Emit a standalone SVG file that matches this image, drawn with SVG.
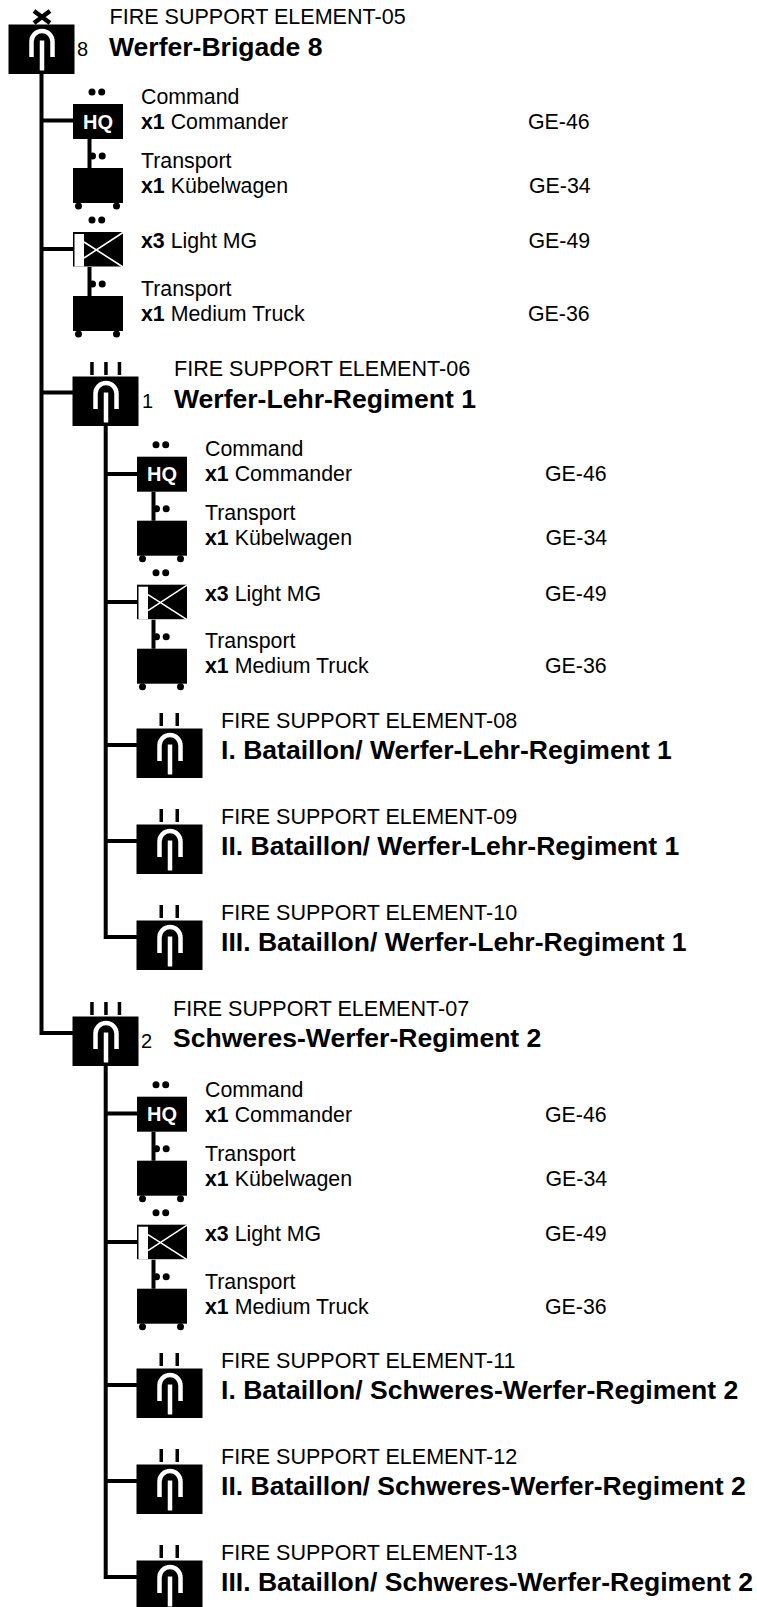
<svg xmlns="http://www.w3.org/2000/svg" width="757" height="1607" viewBox="0 0 757 1607">
<style>
text{font-family:"Liberation Sans",Arial,sans-serif;fill:#000}
.f{font-size:21.550px}.t{font-size:26.560px;font-weight:700}.l{font-size:21.330px}.n{font-size:20px}.b{font-weight:700}
.hq{font-size:20px;font-weight:700;fill:#fff}
.c{fill:none;stroke:#000;stroke-width:4;stroke-linejoin:miter}
.w{fill:none;stroke:#fff;stroke-width:4.500}
.wt{fill:none;stroke:#fff;stroke-width:1.600}
</style>
<defs>
<g id="arch"><rect width="66" height="49.500" fill="#000"/><path class="w" d="M23 32.500V17A10.500 10.500 0 0 1 44 17V32.500M33.500 16V46"/></g>
<g id="dots"><circle cx="0" cy="0" r="3.500"/><circle cx="9.700" cy="0" r="3.500"/></g>
<g id="veh"><rect width="50" height="35"/><circle cx="5.500" cy="38" r="3.500"/><circle cx="43.500" cy="38" r="3.500"/></g>
<g id="mg"><rect width="50" height="34.500" fill="#000"/><path fill="#fff" d="M1.500 2H11V34.500H1.500Z"/><path class="wt" d="M11 10L50 35M11 26L50 .5"/></g>
<g id="bars3"><path d="M-15.500 0h3.500v13h-3.500zM-1.500 0h3.500v13h-3.500zM12 0h3.500v13h-3.500z"/></g>
<g id="bars2"><path d="M-9.500 0h3.500v13h-3.500zM6.500 0h3.500v13h-3.500z"/></g>
<g id="support">
<use href="#dots" x="19" y="-12"/>
<rect width="50" height="35"/><text class="hq" x="25" y="24.500" text-anchor="middle">HQ</text>
<use href="#dots" x="19.500" y="52"/>
<use href="#veh" y="64"/>
<use href="#dots" x="19" y="116"/>
<use href="#mg" y="128"/>
<use href="#dots" x="19.500" y="180"/>
<use href="#veh" y="192"/>
</g>
<g id="suppconn"><path class="c" d="M16.500 35V64M16.500 163V192"/></g>
<g id="supptext">
<text class="l" x="68" y="-1">Command</text>
<text class="l" x="68" y="24"><tspan class="b">x1</tspan> Commander</text>
<text class="l" x="68" y="63">Transport</text>
<text class="l" x="68" y="88"><tspan class="b">x1</tspan> Kübelwagen</text>
<text class="l" x="68" y="191">Transport</text>
<text class="l" x="68" y="216"><tspan class="b">x1</tspan> Medium Truck</text>
</g>
</defs>
<g id="connectors">
<path class="c" d="M41.500 73V1033H73M41.500 120.500H73M41.500 249H73M41.500 392.500H73"/>
<path class="c" d="M105.700 426V937H137M105.700 474H137M105.700 602H137M105.700 745H137M105.700 841H137"/>
<path class="c" d="M105.700 1066V1577H137M105.700 1113.500H137M105.700 1242H137M105.700 1385H137M105.700 1481H137"/>
</g>
<g id="n05">
<path d="M34 11L50 23M50 11L34 23" stroke="#000" stroke-width="4.500" fill="none"/>
<use href="#arch" x="8.500" y="24.500"/>
<text class="n" x="77" y="56">8</text>
<text class="f" x="109.500" y="24">FIRE SUPPORT ELEMENT-05</text>
<text class="t" x="109" y="56">Werfer-Brigade 8</text>
</g>
<g id="s1" transform="translate(73 104)"><use href="#support"/><use href="#suppconn"/><use href="#supptext" y="1"/>
<text class="l" x="68" y="144"><tspan class="b">x3</tspan> Light MG</text>
<text class="l" x="455" y="25">GE-46</text><text class="l" x="456" y="89">GE-34</text><text class="l" x="455.500" y="144">GE-49</text><text class="l" x="455" y="217">GE-36</text></g>
<g id="n06">
<use href="#bars3" x="105.700" y="362"/><use href="#arch" x="72.500" y="376.500"/>
<text class="n" x="142" y="408">1</text>
<text class="f" x="174" y="376">FIRE SUPPORT ELEMENT-06</text>
<text class="t" x="174" y="408">Werfer-Lehr-Regiment 1</text>
</g>
<g id="s2" transform="translate(137 456.700)"><use href="#support"/><use href="#suppconn"/><use href="#supptext"/>
<text class="l" x="68" y="144"><tspan class="b">x3</tspan> Light MG</text>
<text class="l" x="408" y="24.500">GE-46</text><text class="l" x="408.500" y="88.500">GE-34</text><text class="l" x="408" y="144.500">GE-49</text><text class="l" x="408" y="216.500">GE-36</text></g>
<g id="n08"><use href="#bars2" x="169" y="713"/><use href="#arch" x="136.500" y="728.500"/>
<text class="f" x="221" y="728">FIRE SUPPORT ELEMENT-08</text><text class="t" x="221" y="759">I. Bataillon/ Werfer-Lehr-Regiment 1</text></g>
<g id="n09"><use href="#bars2" x="169" y="809"/><use href="#arch" x="136.500" y="824.500"/>
<text class="f" x="221" y="824">FIRE SUPPORT ELEMENT-09</text><text class="t" x="221" y="855">II. Bataillon/ Werfer-Lehr-Regiment 1</text></g>
<g id="n10"><use href="#bars2" x="169" y="905"/><use href="#arch" x="136.500" y="920.500"/>
<text class="f" x="221" y="920">FIRE SUPPORT ELEMENT-10</text><text class="t" x="221" y="951">III. Bataillon/ Werfer-Lehr-Regiment 1</text></g>
<g id="n07">
<use href="#bars3" x="105.700" y="1002"/><use href="#arch" x="72.500" y="1016.500"/>
<text class="n" x="141" y="1048">2</text>
<text class="f" x="173" y="1016">FIRE SUPPORT ELEMENT-07</text>
<text class="t" x="173" y="1047">Schweres-Werfer-Regiment 2</text>
</g>
<g id="s3" transform="translate(137 1096.700)"><use href="#support"/><use href="#suppconn"/><use href="#supptext" y="1"/>
<text class="l" x="68" y="144"><tspan class="b">x3</tspan> Light MG</text>
<text class="l" x="408" y="25">GE-46</text><text class="l" x="408.500" y="89">GE-34</text><text class="l" x="408" y="144">GE-49</text><text class="l" x="408" y="217">GE-36</text></g>
<g id="n11"><use href="#bars2" x="169" y="1353"/><use href="#arch" x="136.500" y="1368.500"/>
<text class="f" x="221" y="1368">FIRE SUPPORT ELEMENT-11</text><text class="t" x="221" y="1399">I. Bataillon/ Schweres-Werfer-Regiment 2</text></g>
<g id="n12"><use href="#bars2" x="169" y="1449"/><use href="#arch" x="136.500" y="1464.500"/>
<text class="f" x="221" y="1464">FIRE SUPPORT ELEMENT-12</text><text class="t" x="221" y="1495">II. Bataillon/ Schweres-Werfer-Regiment 2</text></g>
<g id="n13"><use href="#bars2" x="169" y="1545"/><use href="#arch" x="136.500" y="1560.500"/>
<text class="f" x="221" y="1560">FIRE SUPPORT ELEMENT-13</text><text class="t" x="221" y="1591">III. Bataillon/ Schweres-Werfer-Regiment 2</text></g>
</svg>
